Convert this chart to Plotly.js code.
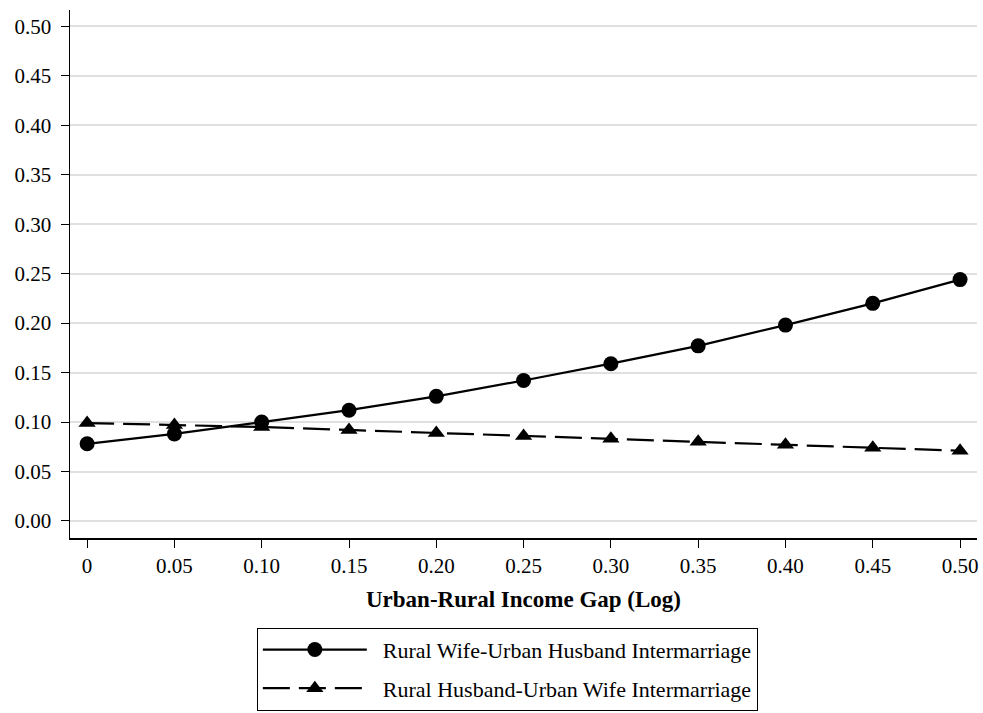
<!DOCTYPE html>
<html>
<head>
<meta charset="utf-8">
<script src="https://cdn.plot.ly/plotly-3.0.1.min.js"></script>
<style>
  html, body { margin: 0; padding: 0; background: #fff; }
  #chart { width: 983px; height: 713px; }
</style>
</head>
<body>
<div id="chart"></div>
<script>
// Income gap (log) on the horizontal axis
const incomeGap = [0, 0.05, 0.10, 0.15, 0.20, 0.25, 0.30, 0.35, 0.40, 0.45, 0.50];
const gapTickLabels = ['0', '0.05', '0.10', '0.15', '0.20', '0.25', '0.30', '0.35', '0.40', '0.45', '0.50'];

// Predicted intermarriage probabilities
const ruralWifeUrbanHusband = [0.078, 0.088, 0.100, 0.112, 0.126, 0.142, 0.159, 0.177, 0.198, 0.220, 0.244];
const ruralHusbandUrbanWife = [0.099, 0.097, 0.095, 0.092, 0.089, 0.086, 0.083, 0.080, 0.077, 0.074, 0.071];

const probTicks = [0, 0.05, 0.10, 0.15, 0.20, 0.25, 0.30, 0.35, 0.40, 0.45, 0.50];
const probTickLabels = ['0.00', '0.05', '0.10', '0.15', '0.20', '0.25', '0.30', '0.35', '0.40', '0.45', '0.50'];

const serif = 'Liberation Serif, Times New Roman, serif';
// small gap between legend symbol and its label
const pad = '\u00a0\u00a0';

const traces = [
  {
    x: incomeGap,
    y: ruralWifeUrbanHusband,
    name: pad + 'Rural Wife-Urban Husband Intermarriage',
    legendgroup: 'wife',
    type: 'scatter',
    mode: 'lines+markers',
    line: { color: '#000', width: 2.2 },
    marker: { symbol: 'circle', size: 15, color: '#000' }
  },
  {
    x: incomeGap,
    y: ruralHusbandUrbanWife,
    name: pad + 'Rural Husband-Urban Wife Intermarriage',
    legendgroup: 'husband',
    type: 'scatter',
    mode: 'lines+markers',
    line: { color: '#000', width: 2.2, dash: '27px,9px' },
    marker: { symbol: 'triangle-up', size: 15, color: '#000' }
  }
];

const layout = {
  width: 983,
  height: 713,
  paper_bgcolor: '#fff',
  plot_bgcolor: '#fff',
  margin: { l: 70, r: 6, t: 10, b: 175, autoexpand: false },
  font: { family: serif, size: 21, color: '#000' },
  showlegend: true,
  xaxis: {
    range: [-0.0098, 0.5097],
    tickvals: incomeGap,
    ticktext: gapTickLabels,
    ticks: 'outside',
    ticklen: 8,
    tickwidth: 1,
    tickcolor: '#000',
    showline: true,
    linecolor: '#000',
    linewidth: 1.5,
    showgrid: false,
    zeroline: false,
    tickfont: { family: serif, size: 21 },
    title: {
      text: '<b>Urban-Rural Income Gap (Log)</b>',
      font: { family: serif, size: 23 },
      standoff: 14
    }
  },
  yaxis: {
    range: [-0.0172, 0.5165],
    tickvals: probTicks,
    ticktext: probTickLabels,
    ticks: 'outside',
    ticklen: 8,
    tickwidth: 1,
    tickcolor: '#000',
    ticklabelstandoff: 5,
    showline: true,
    linecolor: '#000',
    linewidth: 1.5,
    showgrid: true,
    gridcolor: '#e0e0e0',
    gridwidth: 2,
    zeroline: false,
    tickfont: { family: serif, size: 21 }
  },
  legend: {
    x: 0.206,
    xanchor: 'left',
    y: -0.17,
    yanchor: 'top',
    bordercolor: '#000',
    borderwidth: 1,
    bgcolor: '#fff',
    itemwidth: 104,
    tracegroupgap: 7,
    font: { family: serif, size: 22 }
  }
};

Plotly.newPlot('chart', traces, layout, { displayModeBar: false, staticPlot: true });
</script>
</body>
</html>
